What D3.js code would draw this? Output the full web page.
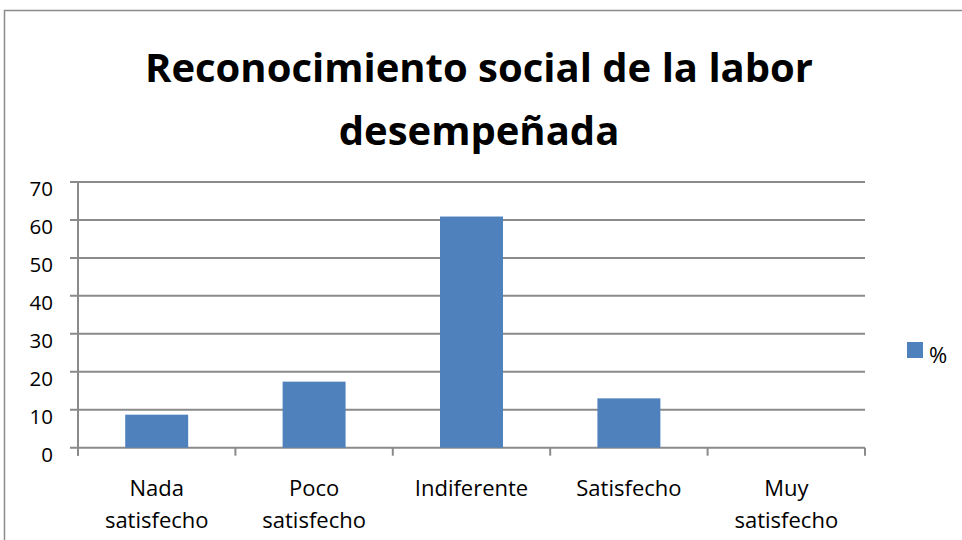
<!DOCTYPE html>
<html>
<head>
<meta charset="utf-8">
<script src="https://cdn.jsdelivr.net/npm/d3@7"></script>
<style>
  html, body { margin: 0; padding: 0; background: #ffffff; }
  svg { display: block; }
</style>
</head>
<body>
<svg id="chart" width="962" height="540"></svg>
<script>
// Chart content
const titleLines = ["Reconocimiento social de la labor", "desempeñada"];
const categories = ["Nada satisfecho", "Poco satisfecho", "Indiferente", "Satisfecho", "Muy satisfecho"];
const categoryLabelLines = [["Nada", "satisfecho"], ["Poco", "satisfecho"], ["Indiferente"], ["Satisfecho"], ["Muy", "satisfecho"]];
const percentValues = [8.7, 17.4, 60.9, 13.0, 0];
const yTickValues = [0, 10, 20, 30, 40, 50, 60, 70];
const seriesName = "%";

const barColor = "#4f81bd";
const gridColor = "#8a8a8a";
const fontFamily = "'Open Sans', 'Liberation Sans', sans-serif";

const svg = d3.select("#chart");

// Outer chart frame (continues past the visible area)
svg.append("rect")
  .attr("x", 4.5).attr("y", 10.5)
  .attr("width", 1100).attr("height", 700)
  .attr("fill", "#ffffff")
  .attr("stroke", "#8c8c8c")
  .attr("stroke-width", 1.5);

// Plot area
const plot = { left: 78, right: 865, top: 182, bottom: 447.7 };

const x = d3.scaleBand()
  .domain(categories)
  .range([plot.left, plot.right])
  .paddingInner(0.6)
  .paddingOuter(0.3);

const y = d3.scaleLinear()
  .domain([0, 70])
  .range([plot.bottom, plot.top]);

// Title
svg.append("g")
  .selectAll("text")
  .data(titleLines)
  .join("text")
  .attr("x", 479)
  .attr("y", (d, i) => 82 + i * 63)
  .attr("text-anchor", "middle")
  .attr("font-family", fontFamily)
  .attr("font-weight", "bold")
  .attr("font-size", 40)
  .attr("fill", "#000000")
  .text(d => d);

// Horizontal gridlines with outside tick marks on the value axis
svg.append("g")
  .selectAll("line")
  .data(yTickValues)
  .join("line")
  .attr("x1", plot.left - 8)
  .attr("x2", plot.right)
  .attr("y1", d => y(d))
  .attr("y2", d => y(d))
  .attr("stroke", gridColor)
  .attr("stroke-width", 2);

// Value axis line
svg.append("line")
  .attr("x1", plot.left).attr("x2", plot.left)
  .attr("y1", y(70)).attr("y2", plot.bottom + 8)
  .attr("stroke", gridColor)
  .attr("stroke-width", 2);

// Value axis labels
svg.append("g")
  .selectAll("text")
  .data(yTickValues)
  .join("text")
  .attr("x", 53)
  .attr("y", d => y(d) + 14)
  .attr("text-anchor", "end")
  .attr("font-family", fontFamily)
  .attr("font-size", 20.5)
  .attr("fill", "#000000")
  .text(d => d);

// Category boundary tick marks
const step = x.step();
const boundaries = categories.map(c => x(c) - (step - x.bandwidth()) / 2)
  .concat([plot.right]);
svg.append("g")
  .selectAll("line")
  .data(boundaries)
  .join("line")
  .attr("x1", d => d).attr("x2", d => d)
  .attr("y1", plot.bottom).attr("y2", plot.bottom + 8)
  .attr("stroke", gridColor)
  .attr("stroke-width", 2);

// Bars
svg.append("g")
  .selectAll("rect")
  .data(percentValues)
  .join("rect")
  .attr("x", (d, i) => x(categories[i]))
  .attr("y", d => y(d))
  .attr("width", x.bandwidth())
  .attr("height", d => y(0) - y(d))
  .attr("fill", barColor);

// Category labels
const catLabels = svg.append("g")
  .selectAll("text")
  .data(categoryLabelLines)
  .join("text")
  .attr("text-anchor", "middle")
  .attr("font-family", fontFamily)
  .attr("font-size", 22)
  .attr("fill", "#000000")
  .attr("transform", (d, i) => `translate(${x(categories[i]) + x.bandwidth() / 2},0)`);
catLabels.selectAll("tspan")
  .data(d => d)
  .join("tspan")
  .attr("x", 0)
  .attr("y", (d, j) => 496 + j * 32)
  .text(d => d);

// Legend
const legend = svg.append("g");
legend.append("rect")
  .attr("x", 907).attr("y", 342)
  .attr("width", 16).attr("height", 16)
  .attr("fill", barColor);
legend.append("text")
  .attr("x", 929).attr("y", 363)
  .attr("font-family", fontFamily)
  .attr("font-size", 22)
  .attr("fill", "#000000")
  .text(seriesName);
</script>
</body>
</html>
